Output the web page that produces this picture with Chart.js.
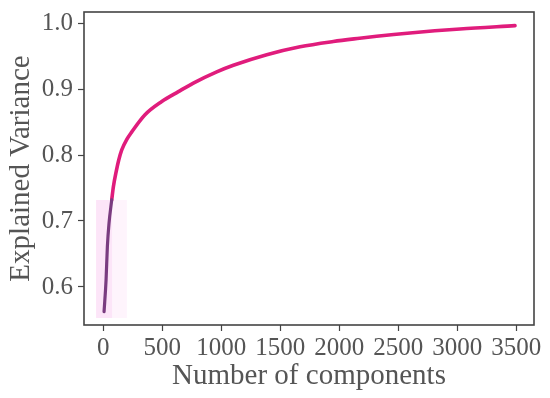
<!DOCTYPE html>
<html>
<head>
<meta charset="utf-8">
<script src="https://cdn.jsdelivr.net/npm/chart.js@4"></script>
<style>
  html, body { margin: 0; padding: 0; background: #fff; }
  #wrap { width: 550px; height: 398px; }
</style>
</head>
<body>
<div id="wrap"><canvas id="chart"></canvas></div>
<script>
// early part of the curve (purple)
const earlyX = [6, 23, 34, 48, 71];
const earlyY = [0.5626, 0.6106, 0.661, 0.6965, 0.732];

// rest of the curve (pink)
const mainX = [71, 85, 110, 130, 156, 200, 241, 353, 495, 636, 763, 961, 1102, 1385, 1667, 1949, 2172, 2316, 2599, 3023, 3489];
const mainY = [0.732, 0.752, 0.776, 0.792, 0.8076, 0.824, 0.835, 0.861, 0.881, 0.896, 0.909, 0.926, 0.936, 0.952, 0.964, 0.972, 0.977, 0.980, 0.985, 0.991, 0.996];

// light shaded band behind the early part
const bandX = [-62, 75];
const bandWideX = [-62, 200];
const bandLow = 0.553;
const bandHigh = 0.732;

const xTicks = [0, 500, 1000, 1500, 2000, 2500, 3000, 3500];
const yTicks = [0.6, 0.7, 0.8, 0.9, 1.0];

const pink = 'rgb(224, 28, 124)';
const purple = 'rgb(122, 60, 128)';
const axisColor = '#444';
const textColor = '#555';
const font = "'Liberation Serif', 'DejaVu Serif', serif";

function pts(xs, ys) {
    return xs.map((x, i) => ({ x: x, y: ys[i] }));
}

const frame = {
    id: 'frame',
    afterDatasetsDraw(chart) {
        const a = chart.chartArea;
        const ctx = chart.ctx;
        ctx.save();
        ctx.strokeStyle = axisColor;
        ctx.lineWidth = 1.6;
        ctx.strokeRect(a.left, a.top, a.right - a.left, a.bottom - a.top);
        ctx.restore();
    }
};

new Chart(document.getElementById('chart').getContext('2d'), {
    type: 'line',
    data: {
        datasets: [
            { data: bandWideX.map(x => ({ x: x, y: bandLow })), borderWidth: 0, pointRadius: 0, fill: false, order: 10 },
            { data: bandWideX.map(x => ({ x: x, y: bandHigh })), borderWidth: 0, pointRadius: 0, order: 9,
              fill: '-1', backgroundColor: 'rgba(250, 205, 240, 0.22)' },
            { data: bandX.map(x => ({ x: x, y: bandLow })), borderWidth: 0, pointRadius: 0, fill: false, order: 8 },
            { data: bandX.map(x => ({ x: x, y: bandHigh })), borderWidth: 0, pointRadius: 0, order: 7,
              fill: '-1', backgroundColor: 'rgba(250, 195, 240, 0.3)' },
            { data: pts(mainX, mainY), borderColor: pink, borderWidth: 3.6, pointRadius: 0, order: 1,
              cubicInterpolationMode: 'monotone', fill: false, borderCapStyle: 'round' },
            { data: pts(earlyX, earlyY), borderColor: purple, borderWidth: 3.2, pointRadius: 0, order: 0,
              cubicInterpolationMode: 'monotone', fill: false, borderCapStyle: 'round' }
        ]
    },
    options: {
        responsive: true,
        maintainAspectRatio: false,
        animation: false,
        layout: { padding: { left: 0, right: 16, top: 12, bottom: 0 } },
        plugins: { legend: { display: false }, tooltip: { enabled: false } },
        scales: {
            x: {
                type: 'linear',
                min: -164,
                max: 3650,
                afterBuildTicks: s => { s.ticks = xTicks.map(v => ({ value: v })); },
                afterFit: s => { s.height = 73; s.paddingLeft = 0; s.paddingRight = 0; },
                grid: { drawOnChartArea: false, drawTicks: true, tickLength: 6, tickColor: axisColor, tickWidth: 1.2 },
                border: { display: false },
                ticks: { color: textColor, font: { family: font, size: 25 }, padding: 2, maxRotation: 0,
                         callback: v => String(v) },
                title: { display: true, text: 'Number of components', color: textColor,
                         font: { family: font, size: 29 }, padding: { top: 0, bottom: 4 } }
            },
            y: {
                min: 0.5424,
                max: 1.0167,
                afterBuildTicks: s => { s.ticks = yTicks.map(v => ({ value: v })); },
                afterFit: s => { s.width = 84; s.paddingTop = 0; s.paddingBottom = 0; },
                grid: { drawOnChartArea: false, drawTicks: true, tickLength: 6, tickColor: axisColor, tickWidth: 1.2 },
                border: { display: false },
                ticks: { color: textColor, font: { family: font, size: 25 }, padding: 5,
                         callback: v => v.toFixed(1) },
                title: { display: true, text: 'Explained Variance', color: textColor,
                         font: { family: font, size: 29 }, padding: { top: 4, bottom: 0 } }
            }
        }
    },
    plugins: [frame]
});
</script>
</body>
</html>
